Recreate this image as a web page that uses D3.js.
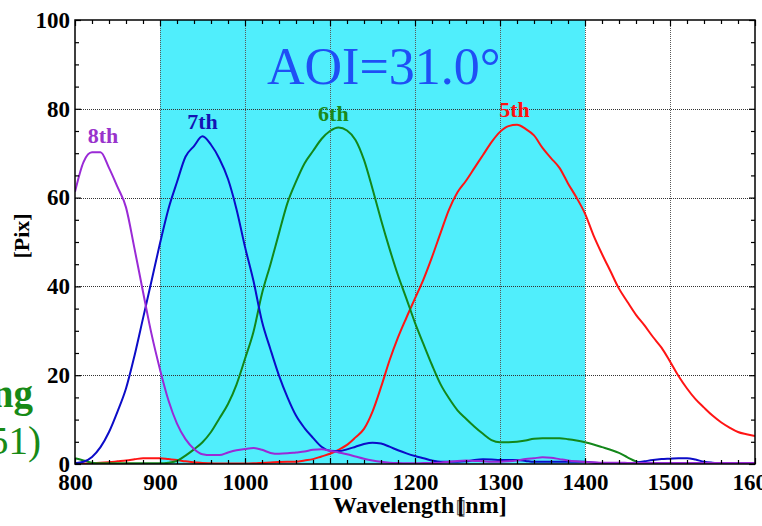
<!DOCTYPE html>
<html>
<head>
<meta charset="utf-8">
<script src="https://cdn.jsdelivr.net/npm/d3@7"></script>
<style>
  html, body { margin: 0; padding: 0; background: #fff; }
  svg { display: block; }
  text { font-family: "Liberation Serif", "Times New Roman", serif; }
</style>
</head>
<body>
<svg id="chart" width="762" height="526"></svg>
<script>
// Wavelength grid (nm), one sample every 10 nm
const wavelength = d3.range(800, 1601, 10);

// Diffraction orders, signal in pixels
const order8 = [61.3,68.0,70.2,70.2,66.7,62.4,57.8,48.5,38.8,29.3,21.3,14.3,9.1,5.6,3.4,2.2,2.0,2.0,2.6,3.1,
  3.4,3.6,3.2,2.5,2.3,2.4,2.6,2.8,3.2,3.3,3.0,2.6,2.2,1.7,1.2,0.8,0.5,0.3,0.2,0.15,
  0.15,0.2,0.2,0.3,0.5,0.7,0.8,0.7,0.6,0.5,0.5,0.6,0.8,1.1,1.3,1.5,1.4,1.1,0.8,0.6,
  0.45,0.4,0.3,0.3,0.3,0.25,0.2,0.2,0.2,0.2,0.2,0.2,0.2,0.2,0.2,0.2,0.2,0.2,0.2,0.2,0.2];
const order7 = [0.15,0.5,1.6,3.8,7.2,11.8,17.0,24.4,32.8,41.2,49.7,57.5,63.5,69.2,71.6,73.8,71.9,68.7,64.2,57.4,
  48.9,41.2,32.1,25.8,19.9,15.0,10.9,8.1,5.9,3.9,3.0,2.9,3.3,3.9,4.5,4.8,4.6,3.9,3.1,2.4,
  1.8,1.3,0.8,0.5,0.5,0.5,0.6,0.9,1.05,1.0,0.9,0.9,0.9,0.7,0.5,0.5,0.5,0.5,0.5,0.5,
  0.5,0.3,0.2,0.2,0.2,0.2,0.3,0.6,0.9,1.1,1.2,1.3,1.3,1.0,0.5,0.3,0.2,0.1,0.1,0.1,0.1];
const order6 = [1.3,0.8,0.3,0.15,0.15,0.15,0.15,0.15,0.15,0.15,0.15,0.3,0.7,1.9,3.3,4.9,7.2,10.3,13.5,17.9,
  23.7,29.8,38.4,45.0,52.0,58.8,63.6,67.7,70.5,73.2,75.0,75.8,75.1,73.0,68.5,62.0,55.0,48.5,42.5,37.2,
  31.8,27.0,22.3,18.0,14.8,12.1,10.2,8.4,6.8,5.4,4.9,4.9,5.0,5.3,5.7,5.8,5.8,5.8,5.6,5.3,
  4.9,4.4,3.8,3.2,2.5,1.5,0.6,0.1,0.05,0.05,0.05,0.05,0.05,0.05,0.05,0.05,0.05,0.05,0.05,0.05,0.05];
const order5 = [0.1,0.1,0.15,0.3,0.4,0.6,0.8,1.05,1.3,1.3,1.3,1.1,0.9,0.6,0.4,0.2,0.15,0.1,0.1,0.1,
  0.1,0.15,0.25,0.35,0.45,0.5,0.5,0.8,1.1,1.7,2.3,3.2,4.3,6.0,7.9,11.8,17.3,23.3,28.5,33.0,
  37.3,41.6,46.6,52.0,57.3,61.2,63.8,66.7,69.6,72.5,74.8,76.1,76.4,75.5,74.0,71.2,68.9,66.7,63.2,60.0,
  56.4,51.5,47.3,43.4,39.5,36.5,33.6,31.2,28.6,26.2,23.1,19.8,17.0,14.6,12.7,10.9,9.4,8.2,7.2,6.7,6.3];

// Highlighted band (nm)
const bandRange = [900, 1400];

// Axis ticks
const xTicks = [800, 900, 1000, 1100, 1200, 1300, 1400, 1500, 1600];
const xMinor = d3.range(800, 1601, 20).filter(v => v % 100 !== 0);
const yTicks = [0, 20, 40, 60, 80, 100];
const yMinor = d3.range(0, 101, 5).filter(v => v % 20 !== 0);

// Order labels: name, anchor wavelength and height of the label baseline
const orderNames = ["5th", "6th", "7th", "8th"];
const orderColors = { "5th": "#ff1414", "6th": "#13871a", "7th": "#0c0cc8", "8th": "#9a2ad6" };
const labelColors = { "5th": "#ff1010", "6th": "#1a8a1a", "7th": "#1414b4", "8th": "#9933cc" };
const labelPos = { "5th": [1299, 78.2], "6th": [1086, 77.2], "7th": [932, 75.5], "8th": [815, 72.4] };

const svg = d3.select("#chart");
const x = d3.scaleLinear().domain([800, 1600]).range([75, 755]);
const y = d3.scaleLinear().domain([0, 100]).range([464, 20]);
const [x0, x1] = x.range();
const [y0, y1] = y.range();

// Highlight band
svg.append("rect")
  .attr("x", x(bandRange[0])).attr("y", y1)
  .attr("width", x(bandRange[1]) - x(bandRange[0])).attr("height", y0 - y1)
  .attr("fill", "#50eefc");

// Dotted grid
const grid = svg.append("g").attr("stroke", "#333").attr("stroke-width", 1)
  .attr("stroke-dasharray", "1,1").attr("fill", "none");
grid.selectAll(".gx").data(xTicks.slice(1, -1)).join("line")
  .attr("x1", d => x(d) + 0.5).attr("x2", d => x(d) + 0.5).attr("y1", y1).attr("y2", y0)
  .attr("stroke", "#5a5a5a");
grid.selectAll(".gy").data(yTicks.slice(1, -1)).join("line")
  .attr("x1", x0).attr("x2", x1).attr("y1", d => Math.round(y(d)) + 0.5).attr("y2", d => Math.round(y(d)) + 0.5);

// Curves
svg.append("clipPath").attr("id", "plotClip").append("rect")
  .attr("x", x0).attr("y", y1).attr("width", x1 - x0).attr("height", y0 - y1);
const series = { "5th": order5, "6th": order6, "7th": order7, "8th": order8 };
const line = d3.line()
  .x((d, i) => x(wavelength[i]))
  .y(d => y(d))
  .curve(d3.curveMonotoneX);
const curves = svg.append("g").attr("clip-path", "url(#plotClip)");
orderNames.forEach(name => {
  curves.append("path")
    .datum(series[name])
    .attr("d", line)
    .attr("fill", "none")
    .attr("stroke", orderColors[name])
    .attr("stroke-width", 2)
    .attr("stroke-linejoin", "round");
});

// Order labels
orderNames.forEach(name => {
  svg.append("text")
    .attr("x", x(labelPos[name][0])).attr("y", y(labelPos[name][1]))
    .attr("font-size", 22).attr("font-weight", "bold")
    .attr("fill", labelColors[name])
    .text(name);
});

// Frame
svg.append("rect")
  .attr("x", x0).attr("y", y1).attr("width", x1 - x0).attr("height", y0 - y1)
  .attr("fill", "none").attr("stroke", "#000").attr("stroke-width", 1.5);

// Axes with inward ticks
const fontStyle = sel => sel.selectAll("text")
  .attr("font-family", "'Liberation Serif', 'Times New Roman', serif")
  .attr("font-size", 23).attr("font-weight", "bold").attr("fill", "#000");
const clean = g => { g.select(".domain").remove(); g.selectAll("line").attr("stroke", "#000").attr("stroke-width", 1.2); };

const bottom = svg.append("g").attr("transform", `translate(0,${y0})`)
  .call(d3.axisBottom(x).tickValues(xTicks).tickSize(-6).tickPadding(10).tickFormat(d3.format("d")));
clean(bottom); fontStyle(bottom);
svg.append("g").attr("transform", `translate(0,${y0})`)
  .call(d3.axisBottom(x).tickValues(xMinor).tickSize(-4).tickFormat("")).call(clean);
svg.append("g").attr("transform", `translate(0,${y1})`)
  .call(d3.axisTop(x).tickValues(xTicks).tickSize(-6).tickFormat("")).call(clean);
svg.append("g").attr("transform", `translate(0,${y1})`)
  .call(d3.axisTop(x).tickValues(xMinor).tickSize(-4).tickFormat("")).call(clean);

const left = svg.append("g").attr("transform", `translate(${x0},0)`)
  .call(d3.axisLeft(y).tickValues(yTicks).tickSize(-6).tickPadding(5).tickFormat(d3.format("d")));
clean(left); fontStyle(left);
svg.append("g").attr("transform", `translate(${x0},0)`)
  .call(d3.axisLeft(y).tickValues(yMinor).tickSize(-4).tickFormat("")).call(clean);
svg.append("g").attr("transform", `translate(${x1},0)`)
  .call(d3.axisRight(y).tickValues(yTicks).tickSize(-6).tickFormat("")).call(clean);
svg.append("g").attr("transform", `translate(${x1},0)`)
  .call(d3.axisRight(y).tickValues(yMinor).tickSize(-4).tickFormat("")).call(clean);

// Axis titles
const xt = svg.append("text").attr("x", 333).attr("y", 513)
  .attr("font-size", 24).attr("font-weight", "bold").attr("fill", "#000");
xt.append("tspan").text("Wavelength");
xt.append("tspan").attr("dx", 1).attr("font-family", "'DejaVu Sans', sans-serif")
  .attr("font-weight", "normal").attr("font-size", 20).attr("fill", "#666").text("\u25AF");
xt.append("tspan").attr("dx", -9).text("[nm]");

svg.append("text")
  .attr("transform", "translate(29,236) rotate(-90)")
  .attr("text-anchor", "middle")
  .attr("font-size", 22).attr("font-weight", "bold").attr("fill", "#000")
  .text("[Pix]");

// Angle of incidence annotation
svg.append("text").attr("x", 267).attr("y", 84)
  .attr("font-size", 52).attr("fill", "#1f4ff5")
  .text("AOI=31.0°");

// Side captions
svg.append("text").attr("x", 33).attr("y", 407).attr("text-anchor", "end")
  .attr("font-size", 39).attr("font-weight", "bold").attr("fill", "#178a17")
  .text("ng");
svg.append("text").attr("x", 41).attr("y", 454).attr("text-anchor", "end")
  .attr("font-size", 39).attr("fill", "#178a17")
  .text("51)");
</script>
</body>
</html>
